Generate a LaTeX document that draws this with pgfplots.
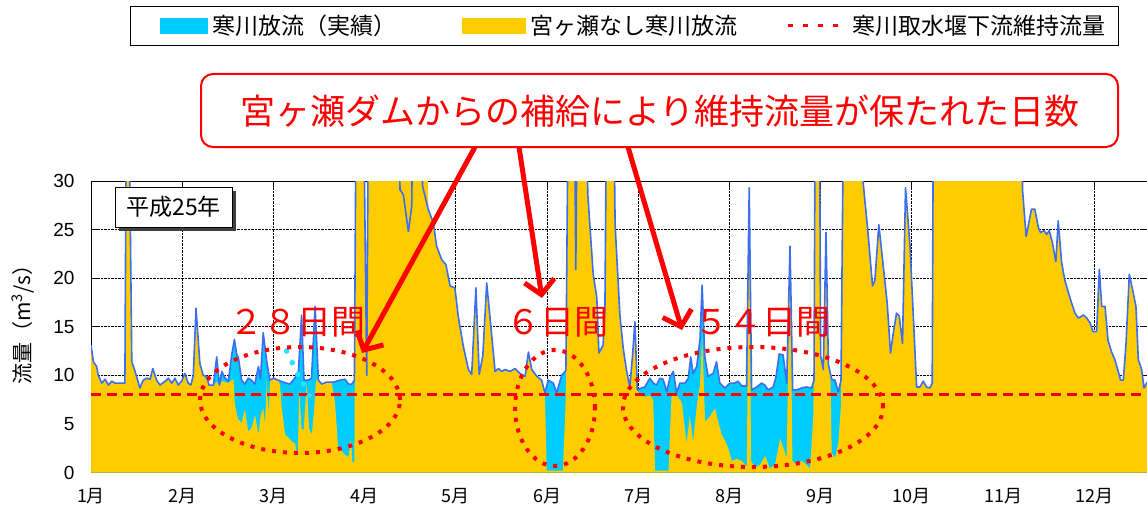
\documentclass[border=0pt]{standalone}
\usepackage{pgfplots}
\pgfplotsset{compat=1.18}
\usepackage{pgfplotstable}
\usepackage{fontspec}
\setmainfont{Liberation Sans}
\newfontfamily\jp{Noto Sans CJK JP}
\usetikzlibrary{arrows.meta}
\definecolor{cyanA}{RGB}{0,204,255}
\definecolor{yel}{RGB}{255,204,0}
\definecolor{blueL}{RGB}{60,110,240}
\definecolor{dotC}{RGB}{40,225,255}

\pgfplotstableread{
x y
0 13.1
0.8 11.4
1.9 10.9
2.4 10.0
3.6 9.2
4.7 9.6
5.8 9.0
6.9 9.4
8.0 9.2
11.3 9.2
11.8 40
12.6 40
13.6 11.4
14.7 10.4
16.3 8.7
17.4 9.5
18.6 9.7
19.7 9.6
20.6 10.7
21.9 9.5
23.0 9.0
24.7 9.4
25.8 9.7
26.9 9.2
28.0 9.7
29.1 9.0
30.2 9.4
31.3 10.2
32.4 9.2
33.3 9.0
34.1 10.0
35.0 16.9
36.3 11.2
37.4 10.0
38.6 9.9
39.3 9.0
40.8 9.0
41.9 11.9
42.8 9.0
43.6 10.4
44.7 9.7
45.8 9.4
46.9 12.1
47.8 13.7
48.6 12.1
49.1 11.9
50.2 9.5
51.3 9.1
52.4 9.7
53.5 9.5
54.6 9.1
55.8 10.9
56.5 9.6
57.4 14.4
58.5 11.6
59.6 9.5
60.8 9.7
62.4 9.5
64.1 9.3
66.3 9.1
67.4 9.5
69.1 10.2
70.2 16.2
71.0 9.5
72.4 9.5
73.5 9.7
74.7 17.1
75.8 9.5
76.9 9.1
78.5 9.3
80.8 9.3
83.0 9.5
84.7 9.6
85.8 9.1
86.9 9.1
87.8 9.5
88.4 40
90.8 40
91.9 10.0
92.5 40
102.5 40
103.0 29.1
104.1 28.6
105.8 24.8
106.9 27.4
107.4 40
110.2 40
110.5 29.5
112.4 27.1
114.1 25.7
115.2 23.3
116.9 21.9
118.3 21.4
119.7 19.2
121.3 19.0
122.4 16.1
124.1 13.0
125.8 10.6
126.9 10.1
128.3 19.0
129.4 10.1
130.6 12.0
131.9 19.5
133.6 14.0
134.7 10.4
135.8 10.7
136.9 10.4
138.0 10.6
139.7 10.4
141.3 10.7
143.0 10.2
144.7 9.9
145.8 12.4
146.9 10.6
148.6 9.9
150.2 9.5
151.3 8.2
152.4 9.5
154.1 9.2
155.2 8.2
156.9 10.0
158.3 10.5
159.1 40
161.1 40
161.6 20.9
162.1 40
165.0 40
165.6 28.6
167.4 20.4
168.6 18.0
169.3 12.3
170.7 13.1
171.3 16.8
171.9 40
174.2 40
174.7 25.5
176.3 16.2
177.4 12.8
178.5 10.5
179.6 8.8
180.5 12.0
181.3 15.5
182.1 8.5
183.5 8.7
184.6 8.8
186.3 9.7
187.4 9.2
188.5 9.0
189.6 9.7
190.7 9.6
191.9 8.3
193.0 9.8
194.1 10.4
195.2 8.2
196.3 9.2
198.0 9.2
199.1 9.7
199.9 11.9
200.7 10.2
201.9 10.9
203.0 13.7
203.7 19.3
204.6 11.9
205.7 9.9
207.4 10.2
208.5 11.4
209.6 9.2
211.3 8.7
213.0 9.2
214.6 9.2
215.7 9.4
216.9 8.9
218.5 8.9
219.4 29.3
220.2 8.5
221.9 8.8
223.5 9.2
224.6 9.0
225.7 8.5
227.4 8.8
228.3 9.8
229.4 12.2
230.7 12.1
231.9 9.2
233.0 23.3
233.9 8.5
235.2 8.5
236.9 8.7
238.5 8.8
240.2 8.7
241.0 9.5
241.4 40
242.8 40
243.2 12.0
244.1 10.6
245.0 24.7
245.8 11.1
246.9 9.6
248.0 9.5
249.1 8.3
250.0 9.5
250.9 40
257.0 40
257.4 29.8
259.1 24.3
260.5 19.2
261.3 19.8
262.6 25.5
264.1 21.2
265.4 17.4
266.5 12.3
267.6 14.7
268.5 16.4
269.4 16.1
270.5 13.3
271.5 29.3
273.0 23.3
274.1 16.1
275.2 8.8
276.3 8.8
277.4 9.4
278.5 8.8
279.6 8.7
280.4 9.2
280.8 40
310.2 40
310.5 29.1
311.7 24.3
313.5 27.1
314.6 27.1
315.8 25.2
316.5 24.7
317.7 24.9
318.5 24.5
319.4 24.9
320.5 23.6
321.6 21.7
322.4 25.9
323.5 21.7
324.6 19.8
325.8 18.5
326.9 17.4
328.0 16.4
329.1 15.9
330.8 16.2
331.9 15.9
333.0 15.4
334.0 14.5
335.2 14.5
336.1 20.9
336.9 17.1
338.0 17.1
339.0 13.6
340.2 12.4
341.3 11.6
342.4 10.4
343.2 9.5
344.1 9.5
345.0 13.3
346.1 20.4
347.4 18.5
348.3 17.1
349.1 11.6
350.2 10.6
351.0 8.7
352.0 9.3
}\tActual

\pgfplotstableread{
x y
0 13.1
0.8 11.4
1.9 10.9
2.4 10.0
3.6 9.2
4.7 9.6
5.8 9.0
6.9 9.4
8.0 9.2
11.3 9.2
11.8 40
12.6 40
13.6 11.4
14.7 10.4
16.3 8.7
17.4 9.5
18.6 9.7
19.7 9.6
20.6 10.7
21.9 9.5
23.0 9.0
24.7 9.4
25.8 9.7
26.9 9.2
28.0 9.7
29.1 9.0
30.2 9.4
31.3 10.2
32.4 9.2
33.3 9.0
34.1 10.0
35.0 16.9
36.3 11.2
37.4 10.0
38.6 9.5
39.3 9.0
40.8 9.0
41.9 9.3
42.8 9.0
43.6 9.4
44.7 9.3
45.8 9.2
46.9 9.5
47.5 9.6
47.9 7.1
49.0 5.5
50.2 5.1
51.3 6.5
52.4 4.2
53.5 4.6
54.7 5.9
55.8 3.9
56.6 6.0
57.4 6.6
58.0 5.0
58.6 9.5
59.2 6.0
59.7 9.5
60.8 9.7
62.4 9.5
63.0 9.0
63.6 6.6
64.7 3.9
65.8 3.6
66.9 3.2
68.0 3.0
68.9 1.5
69.4 8.5
70.2 4.5
70.9 4.4
71.9 9.2
72.7 4.5
73.6 3.9
74.4 6.6
75.0 9.5
75.8 9.5
76.9 9.1
78.5 9.3
80.2 9.3
81.3 7.3
82.4 2.5
83.5 2.2
84.7 1.8
85.8 1.6
86.7 3.5
87.1 1.1
87.8 1.1
88.4 40
90.8 40
91.9 10.0
92.5 40
112.0 40
112.4 27.1
114.1 25.7
115.2 23.3
116.9 21.9
118.3 21.4
119.7 19.2
121.3 19.0
122.4 16.1
124.1 13.0
125.8 10.6
126.9 10.1
128.3 19.0
129.4 10.1
130.6 12.0
131.9 19.5
133.6 14.0
134.7 10.4
135.8 10.7
136.9 10.4
138.0 10.6
139.7 10.4
141.3 10.7
143.0 10.2
144.7 9.9
145.8 12.4
146.9 10.6
148.6 9.9
150.2 9.5
151.3 8.2
151.9 0.2
157.3 0.2
158.3 8.0
159.1 40
161.1 40
161.6 20.9
162.1 40
165.0 40
165.6 28.6
167.4 20.4
168.6 18.0
169.3 12.3
170.7 13.1
171.3 16.8
171.9 40
174.2 40
174.7 25.5
176.3 16.2
177.4 12.8
178.5 10.5
179.6 8.8
180.5 12.0
181.3 15.5
182.1 8.5
183.0 8.0
184.6 7.8
186.3 7.9
187.4 7.5
188.0 0.2
192.5 0.2
193.5 7.8
195.0 8.0
196.3 7.5
197.0 7.1
198.5 3.0
199.6 5.8
200.7 3.2
202.0 7.1
203.0 9.0
203.7 14.0
204.7 5.2
206.3 5.8
208.0 6.6
209.1 5.2
210.2 3.9
211.3 3.3
212.4 2.5
213.6 1.2
215.2 1.4
216.9 1.2
218.6 0.6
219.4 29.3
220.0 1.2
221.3 0.5
223.0 0.8
224.7 1.7
226.3 0.4
228.0 0.8
229.7 3.5
230.8 2.5
231.9 1.5
233.0 23.3
233.8 1.2
235.2 0.8
236.9 1.2
238.5 0.8
239.7 0.4
240.8 6.0
241.4 40
242.8 40
243.2 12.0
244.1 10.6
245.0 24.7
245.8 11.1
246.5 9.6
246.9 2.0
248.0 1.5
249.1 3.0
250.0 7.0
250.9 40
257.0 40
257.4 29.8
259.1 24.3
260.5 19.2
261.3 19.8
262.6 25.5
264.1 21.2
265.4 17.4
266.5 12.3
267.6 14.7
268.5 16.4
269.4 16.1
270.5 13.3
271.5 29.3
273.0 23.3
274.1 16.1
275.2 8.8
276.3 8.8
277.4 9.4
278.5 8.8
279.6 8.7
280.4 9.2
280.8 40
310.2 40
310.5 29.1
311.7 24.3
313.5 27.1
314.6 27.1
315.8 25.2
316.5 24.7
317.7 24.9
318.5 24.5
319.4 24.9
320.5 23.6
321.6 21.7
322.4 25.9
323.5 21.7
324.6 19.8
325.8 18.5
326.9 17.4
328.0 16.4
329.1 15.9
330.8 16.2
331.9 15.9
333.0 15.4
334.0 14.5
335.2 14.5
336.1 20.9
336.9 17.1
338.0 17.1
339.0 13.6
340.2 12.4
341.3 11.6
342.4 10.4
343.2 9.5
344.1 9.5
345.0 13.3
346.1 20.4
347.4 18.5
348.3 17.1
349.1 11.6
350.2 10.6
351.0 8.7
352.0 9.3
}\tNoMiya

\pgfplotstableread{
x y
65.2 12.5
67.1 11.3
68.9 10.1
70.8 9.1
72.7 7.9
}\tDots

\begin{document}
\begin{tikzpicture}
\useasboundingbox (-91pt,-42.5pt) rectangle (1056pt,472.5pt);
\begin{axis}[
  anchor=origin, at={(0pt,0pt)},
  scale only axis, width=1056pt, height=291.5pt,
  xmin=0, xmax=352, ymin=0, ymax=30,
  xtick={0,30.4,60.8,91.2,121.6,152,182.4,212.8,243.2,273.6,304,334.4},
  xticklabels={1月,2月,3月,4月,5月,6月,7月,8月,9月,10月,11月,12月},
  ytick={0,5,10,15,20,25,30},
  grid=major,
  grid style={black, densely dotted, line width=0.7pt},
  axis line style={black, line width=1pt},
  tick style={black, line width=1pt},
  major tick length=7pt,
  /pgf/number format/assume math mode=true,
  yticklabel style={font=\fontsize{19}{19}\selectfont, xshift=-13pt},
  xticklabel style={font=\jp\fontsize{18}{18}\selectfont, yshift=-12pt},
  clip=true,
]
\addplot[fill=cyanA, draw=none] table[x=x,y=y] {\tActual} \closedcycle;
\addplot[fill=yel, draw=none] table[x=x,y=y] {\tNoMiya} \closedcycle;
\addplot[blueL, line width=1.6pt, line join=round] table[x=x,y=y] {\tActual};
\addplot[red, line width=3pt, dash pattern=on 10pt off 6pt] coordinates {(0,8) (352,8)};
\addplot[only marks, mark=*, mark size=2.5pt, dotC, mark options={draw=none, fill=dotC}] table[x=x,y=y] {\tDots};
\end{axis}

% year box
\fill[black!75] (28pt,241.5pt) rectangle (145pt,281.5pt);
\draw[fill=white, line width=1pt] (24pt,245.5pt) rectangle (141pt,285.5pt);
\node[font=\jp\fontsize{23}{23}\selectfont] at (82.5pt,265.5pt) {平成25年};

% y label
\node[rotate=90, font=\jp\fontsize{21}{21}\selectfont] at (-68pt,153pt) {流量（m\textsuperscript{3}/s）};

% ellipses
\draw[red, line width=4pt, dash pattern=on 4pt off 7pt] (209pt,72.5pt) ellipse [x radius=100pt, y radius=53pt];
\draw[red, line width=4pt, dash pattern=on 4pt off 7pt] (464pt,64.5pt) ellipse [x radius=40pt, y radius=58pt];
\draw[red, line width=4pt, dash pattern=on 4pt off 7pt] (662pt,65.5pt) ellipse [x radius=130pt, y radius=60pt];

% day counts
\node[red, font=\jp\fontsize{34}{34}\selectfont] at (206pt,150.5pt) {２８日間};
\node[red, font=\jp\fontsize{34}{34}\selectfont] at (466pt,150.5pt) {６日間};
\node[red, font=\jp\fontsize{34}{34}\selectfont] at (671pt,150.5pt) {５４日間};

% callout
\draw[red, line width=2pt, rounded corners=12pt, fill=white] (110pt,325.5pt) rectangle (1027pt,398.5pt);
\node[red, font=\jp\fontsize{35}{35}\selectfont] at (569pt,361pt) {宮ヶ瀬ダムからの補給により維持流量が保たれた日数};

% arrows
\draw[red, line width=5pt, -{Straight Barb[length=14pt,width=30pt]}] (384pt,325.5pt) -- (271pt,119.5pt);
\draw[red, line width=5pt, -{Straight Barb[length=14pt,width=30pt]}] (428pt,325.5pt) -- (451pt,174.5pt);
\draw[red, line width=5pt, -{Straight Barb[length=14pt,width=30pt]}] (537pt,325.5pt) -- (591pt,142.5pt);

% legend
\draw[line width=1pt, fill=white] (39pt,426.5pt) rectangle (1027pt,465.5pt);
\fill[cyanA] (69pt,438.5pt) rectangle (117pt,454.5pt);
\node[anchor=west, inner sep=0pt, font=\jp\fontsize{23}{23}\selectfont] at (121pt,446.5pt) {寒川放流（実績）};
\fill[yel] (371pt,438.5pt) rectangle (435pt,454.5pt);
\node[anchor=west, inner sep=0pt, font=\jp\fontsize{23}{23}\selectfont] at (439pt,446.5pt) {宮ヶ瀬なし寒川放流};
\draw[red, line width=3pt, dash pattern=on 5pt off 10pt] (697pt,446.5pt) -- (757pt,446.5pt);
\node[anchor=west, inner sep=0pt, font=\jp\fontsize{23}{23}\selectfont] at (761pt,446.5pt) {寒川取水堰下流維持流量};
\end{tikzpicture}
\end{document}
